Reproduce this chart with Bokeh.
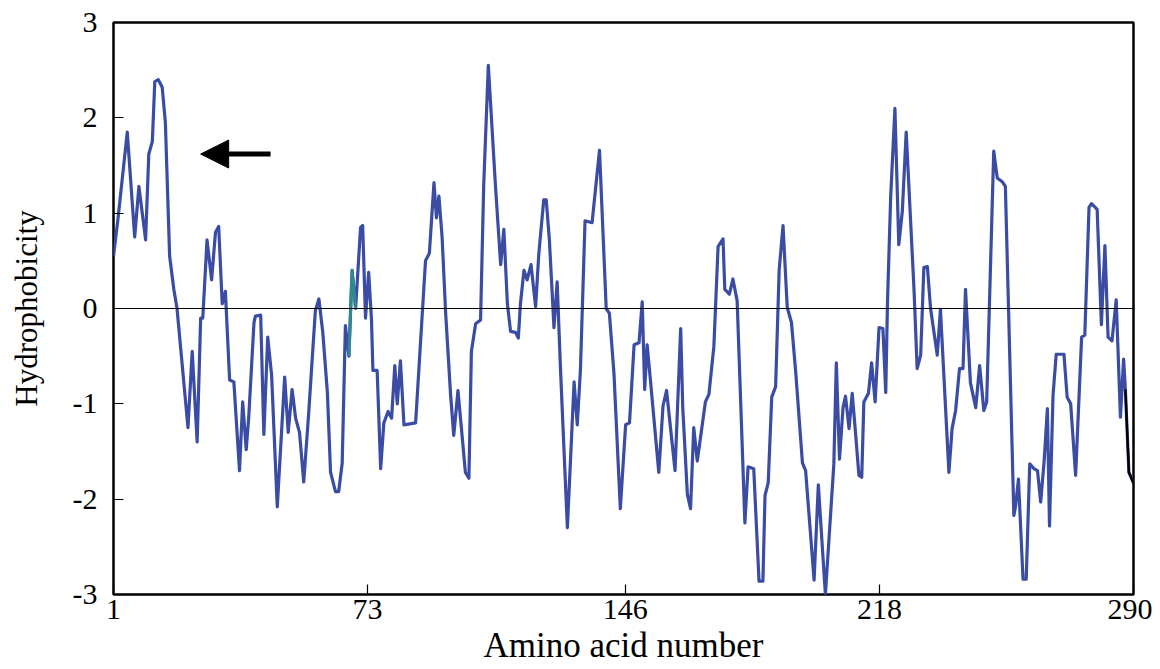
from bokeh.plotting import figure
from bokeh.models import Range1d, FixedTicker, Span, Arrow, NormalHead, ColumnDataSource
from bokeh.embed import file_html
from bokeh.resources import INLINE

# ---- data ----
residue = [1, 2.3, 4.9, 7.0, 8.2, 10.1, 11, 12, 12.7, 13.7, 14.8, 15.7, 16.9, 18.1, 19,
           22.1, 23.3, 24.7, 25.7, 26.3, 27.5, 28.8, 29.9, 30.8, 31.8, 32.7, 33.9, 35.1,
           36.7, 37.6, 38.6, 39.3, 40.8, 41.2, 42.7, 43.6, 44.7, 45.8, 47.4, 49.5, 50.5,
           51.6, 52.6, 53.7, 54.9, 56.3, 58.2, 59.2, 60.3, 61.6, 62.5, 63.9, 64.8, 65.8,
           66.7, 67.7, 68.6, 69.6, 71, 71.6, 72.4, 73.3, 74.1, 74.5, 75.7, 76.7, 77.6,
           78.8, 79.8, 80.7, 81.4, 82.3, 83.3, 86.6, 89.4, 90.5, 91.8, 92.5, 93.2, 94.1,
           95.1, 96.5, 97.4, 98.6, 99.8, 100.7, 101.7, 102.4, 103.6, 105, 105.9, 107.2,
           109.2, 110.7, 111.6, 112.6, 113.5, 114.9, 115.7, 116.3, 117.3, 118.2, 119.3,
           120.6, 121.5, 122.9, 123.6, 124.5, 125.8, 126.7, 127.7, 129.6, 131.5, 132.4,
           133.3, 134.6, 136.6, 138.7, 140.6, 141.5, 142.8, 144.6, 146.1, 147.2, 148.5,
           149.9, 150.8, 151.5, 152.2, 153.2, 155.5, 156.7, 157.7, 160.1, 161.7, 162.3,
           163.6, 164.5, 165.4, 166.4, 168.7, 169.7, 171.1, 172.3, 173.7, 174.2, 175.5,
           176.5, 177.7, 179.9, 180.8, 182.4, 183.9, 185, 185.6, 186.5, 187.5, 188.6,
           189.6, 190.7, 191.5, 191.9, 193.1, 194.3, 196.2, 197.1, 199.5, 200.7, 202.7,
           205.1, 205.8, 206.7, 207.7, 208.4, 209.4, 210.3, 211.3, 212.2, 213, 213.6,
           214.9, 215.8, 216.8, 217.9, 219, 219.8, 220.3, 221.2, 222.4, 223.5, 224.5,
           225.6, 226.8, 227.8, 228.7, 229.7, 230.6, 231.6, 232.5, 234.4, 235.3, 237.7,
           238.6, 239.6, 240.7, 241.7, 242.4, 243.8, 245.3, 246.4, 247.6, 248.4, 250.4,
           251.4, 252.8, 253.7, 256.1, 256.6, 257.4, 258.7, 259.6, 260.6, 261.8, 262.8,
           263.7, 264.7, 265.6, 266.2, 267.2, 268.1, 270.3, 271.2, 272.2, 273.6, 275.3,
           276.2, 277.4, 278.1, 279.7, 280.9, 281.9, 282.8, 283.9, 285.1, 286.3, 287.2,
           287.7, 288.7, 290]
hydrophobicity = [0.55, 0.95, 1.85, 0.75, 1.28, 0.72, 1.62, 1.75, 2.38, 2.40, 2.32, 1.95, 0.55, 0.2, 0.0,
                  -1.25, -0.45, -1.4, -0.1, -0.1, 0.72, 0.3, 0.8, 0.86, 0.05, 0.18, -0.75, -0.77,
                  -1.7, -0.98, -1.48, -1.15, -0.15, -0.08, -0.07, -1.32, -0.3, -0.7, -2.08, -0.72, -1.3,
                  -0.85, -1.15, -1.3, -1.82, -1.1, -0.02, 0.1, -0.25, -0.88, -1.72, -1.92, -1.92, -1.62,
                  -0.18, -0.5, 0.4, 0.0, 0.85, 0.87, -0.1, 0.38, -0.12, -0.65, -0.65, -1.68, -1.2,
                  -1.08, -1.15, -0.6, -1.0, -0.55, -1.22, -1.2, 0.5, 0.58, 1.32, 0.95, 1.18, 0.75,
                  -0.04, -0.9, -1.33, -0.86, -1.35, -1.72, -1.78, -0.45, -0.16, -0.12, 1.3, 2.55,
                  1.3, 0.46, 0.83, 0.05, -0.24, -0.25, -0.31, 0.05, 0.4, 0.3, 0.46,
                  0.02, 0.57, 1.14, 1.14, 0.72, -0.2, 0.28, -0.68, -2.3, -0.77, -1.22,
                  -0.64, 0.92, 0.9, 1.66, 0.0, -0.05, -0.68, -2.1, -1.22, -1.2, -0.38,
                  -0.36, 0.07, -0.85, -0.38, -0.78, -1.72, -1.02, -0.86, -1.7, -0.21, -1.05,
                  -1.95, -2.1, -1.25, -1.6, -0.98, -0.9, -0.4, 0.65, 0.73, 0.2, 0.15,
                  0.31, 0.08, -2.25, -1.66, -1.68, -2.86, -2.86, -1.96, -1.83, -0.93, -0.82,
                  0.4, 0.87, 0.29, 0.01, -0.15, -0.67, -1.62, -1.7, -2.85, -1.85, -3.0,
                  -1.63, -0.57, -1.58, -1.04, -0.92, -1.26, -0.89, -1.33, -1.75, -1.77, -0.98,
                  -0.89, -0.57, -0.98, -0.2, -0.21, -0.88, 0.07, 1.17, 2.1, 0.67, 1.02,
                  1.85, 0.95, 0.21, -0.63, -0.49, 0.43, 0.44, 0.0, -0.49, -0.01, -1.72,
                  -1.26, -1.07, -0.63, -0.63, 0.2, -0.78, -1.04, -0.6, -1.07, -0.98, 1.65,
                  1.37, 1.33, 1.28, -2.17, -2.07, -1.79, -2.84, -2.84, -1.63, -1.68, -1.7,
                  -2.03, -1.59, -1.05, -2.28, -0.91, -0.48, -0.48, -0.93, -1.0, -1.75, -0.3,
                  -0.28, 1.06, 1.1, 1.04, -0.17, 0.66, -0.3, -0.34, 0.09, -1.14, -0.53,
                  -0.85, -1.72, -1.83]

xtick_vals = [1, 73, 146, 218, 290]
ytick_vals = [-3, -2, -1, 0, 1, 2, 3]
ytick_labels = ["-3", "-2", "-1", "0", "1", "2", "3"]

# highlighted pieces of the trace (indices into the arrays above)
teal_start = residue.index(67.7)
teal_end = residue.index(69.6)
black_start = residue.index(287.7)

# arrow annotation (data units)
arrow_x = [45.5, 25.7]
arrow_y = [1.62, 1.62]

x_label = "Amino acid number"
y_label = "Hydrophobicity"

FONT = "Liberation Serif"

p = figure(width=1152, height=668, output_backend="svg", toolbar_location=None,
           x_range=Range1d(1, 290), y_range=Range1d(-3, 3),
           min_border_left=113, min_border_right=19, min_border_top=22, min_border_bottom=74)
p.background_fill_color = "white"
p.border_fill_color = "white"
p.grid.visible = False
p.outline_line_color = "black"
p.outline_line_width = 2.5

# zero line
p.add_layout(Span(location=0, dimension="width", line_color="black", line_width=1.2))

src = ColumnDataSource(dict(x=residue, y=hydrophobicity))
p.line("x", "y", source=src, line_color="#3A4CA4", line_width=3.2, line_join="round")

p.line(residue[teal_start:teal_end + 1], hydrophobicity[teal_start:teal_end + 1],
       line_color="#2E8A8C", line_width=3.0, line_join="round")
p.line(residue[black_start:], hydrophobicity[black_start:], line_color="black", line_width=2.4,
       line_join="round")

p.add_layout(Arrow(end=NormalHead(size=28, fill_color="black", line_color="black"),
                   x_start=arrow_x[0], y_start=arrow_y[0], x_end=arrow_x[1], y_end=arrow_y[1],
                   line_color="black", line_width=5))

for ax in (p.xaxis[0], p.yaxis[0]):
    ax.axis_line_color = None
    ax.major_tick_in = 10
    ax.major_tick_out = 0
    ax.major_tick_line_color = "black"
    ax.major_tick_line_width = 1.2
    ax.minor_tick_line_color = None
    ax.major_label_text_font = FONT
    ax.major_label_text_font_size = "30px"
    ax.major_label_text_color = "black"
    ax.axis_label_text_font = FONT
    ax.axis_label_text_font_style = "normal"
    ax.axis_label_text_color = "black"

p.xaxis.axis_label_text_font_size = "35px"
p.yaxis.axis_label_text_font_size = "31px"
p.xaxis.ticker = FixedTicker(ticks=xtick_vals)
p.yaxis.ticker = FixedTicker(ticks=ytick_vals)
p.yaxis.major_label_overrides = {v: s for v, s in zip(ytick_vals, ytick_labels)}
p.xaxis.major_label_standoff = 5
p.yaxis.major_label_standoff = 16
p.xaxis.axis_label_standoff = 4
p.yaxis.axis_label_standoff = 26
p.xaxis.axis_label = x_label
p.yaxis.axis_label = y_label

open("out.html", "w").write(file_html(p, INLINE))
